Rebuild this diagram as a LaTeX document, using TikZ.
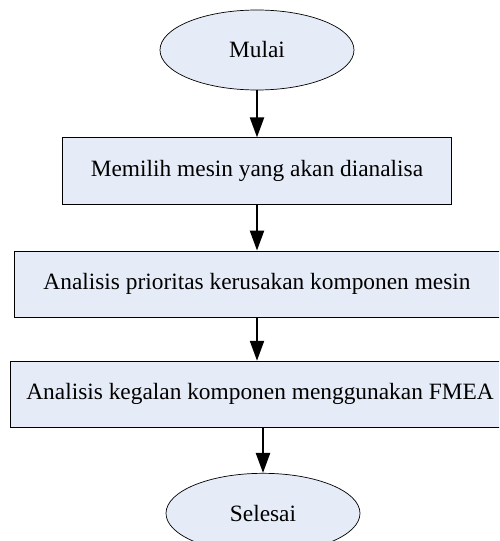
\documentclass[tikz,border=0pt]{standalone}
\usepackage{fontspec}
\setmainfont{Liberation Serif}
\usetikzlibrary{positioning, shapes.geometric, arrows.meta}

\definecolor{boxfill}{HTML}{E6ECF7}
\tikzset{
    terminal/.style={ellipse, draw, fill=boxfill, inner sep=0pt,
        minimum width=3.88cm, minimum height=1.6cm, font=\fontsize{13.3}{15}\selectfont},
    process/.style={rectangle, draw, fill=boxfill, inner sep=0pt,
        minimum height=1.33cm, font=\fontsize{13.3}{15}\selectfont},
    flow/.style={-{Triangle[length=0.4cm,width=0.28cm]}, line width=1.3pt}
}

\begin{document}
\begin{tikzpicture}
    \useasboundingbox (0,0) rectangle (9.98,-10.82);
    \begin{scope}
        \clip (0,0) rectangle (9.98,-10.82);
        \node [terminal] (mulai) at (5.14,-1.0) {Mulai};
        \node [process, minimum width=7.78cm, below=0.94cm of mulai] (pilih) {Memilih mesin yang akan dianalisa};
        \node [process, minimum width=9.72cm, below=0.92cm of pilih] (prioritas) {Analisis prioritas kerusakan komponen mesin};
        \node [process, minimum width=10cm, below=0.86cm of prioritas, xshift=0.06cm] (fmea) {Analisis kegalan komponen menggunakan FMEA};
        \node [terminal, below=0.9cm of fmea, xshift=0.06cm] (selesai) {Selesai};
    \end{scope}
    \draw [flow] (mulai) -- (pilih);
    \draw [flow] (pilih) -- (prioritas);
    \draw [flow] (prioritas) -- (prioritas.south |- fmea.north);
    \draw [flow] (fmea.south -| selesai) -- (selesai);
\end{tikzpicture}
\end{document}
